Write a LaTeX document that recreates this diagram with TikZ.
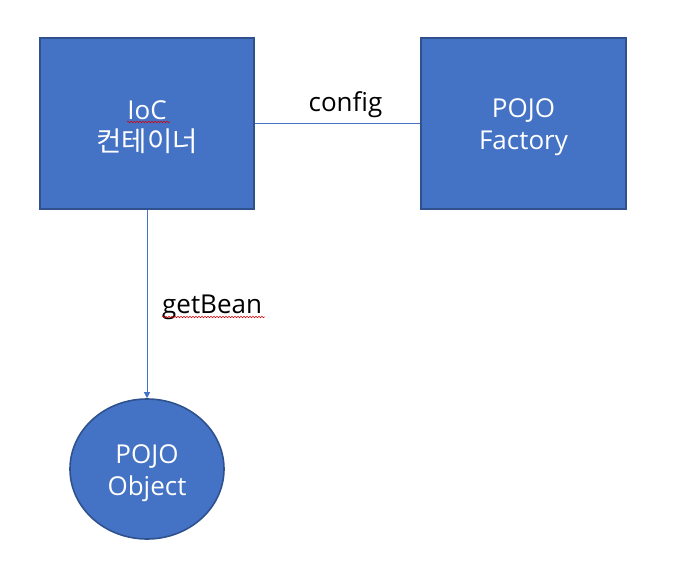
\documentclass[tikz,border=0pt]{standalone}
\usepackage{fontspec}
\setmainfont{Open Sans}
\newfontfamily\cjk{Noto Sans CJK KR}
\usetikzlibrary{shapes.geometric,arrows.meta,decorations.pathmorphing}
\definecolor{boxfill}{HTML}{4472C4}
\definecolor{boxedge}{HTML}{2F528F}
\begin{document}
\begin{tikzpicture}[x=1pt,y=-1pt,
  bx/.style={draw=boxedge,fill=boxfill,line width=1.6pt,rectangle,
    minimum height=171pt,inner sep=0pt},
  ov/.style={draw=boxedge,fill=boxfill,line width=1.6pt,ellipse,
    minimum width=154pt,minimum height=140pt,inner sep=0pt},
  tx/.style={text=white,align=center,inner sep=0pt,
    font=\fontsize{26}{32}\selectfont},
  lk/.style={draw=boxfill,line width=0.8pt},
  lb/.style={text=black,inner sep=0pt,font=\fontsize{26}{30}\selectfont},
  sq/.style={draw=red!85!black,line width=0.5pt,
    decorate,decoration={snake,amplitude=0.8pt,segment length=3pt}}]
\useasboundingbox (0,0) rectangle (678,588);
\node[bx,minimum width=214pt] (ioc) at (147,123.5) {};
\node[bx,minimum width=205pt] (factory) at (523.5,123.5) {};
\node[ov] (object) at (147,469) {};
\node[tx] (ioctext) at ([yshift=-4pt]ioc.center) {IoC\\{\cjk\fontsize{27.5}{32}\selectfont 컨테이너}};
\node[tx] (factorytext) at ([yshift=-4pt]factory.center) {POJO\\Factory};
\node[tx] (objecttext) at ([yshift=-4pt]object.center) {POJO\\Object};
\draw[lk] (ioc.east) -- (factory.west);
\draw[lk,-{Triangle[width=6pt,length=6pt]}] (ioc.south) -- (object.north);
\node[lb,anchor=base] (config) at (345.5,112) {config};
\node[lb,anchor=base west] (getbean) at (162,314) {getBean};
% spell-check marks
\draw[sq] (127,122) -- (170,122);
\draw[sq] (162,317) -- (265,317);
\end{tikzpicture}
\end{document}
